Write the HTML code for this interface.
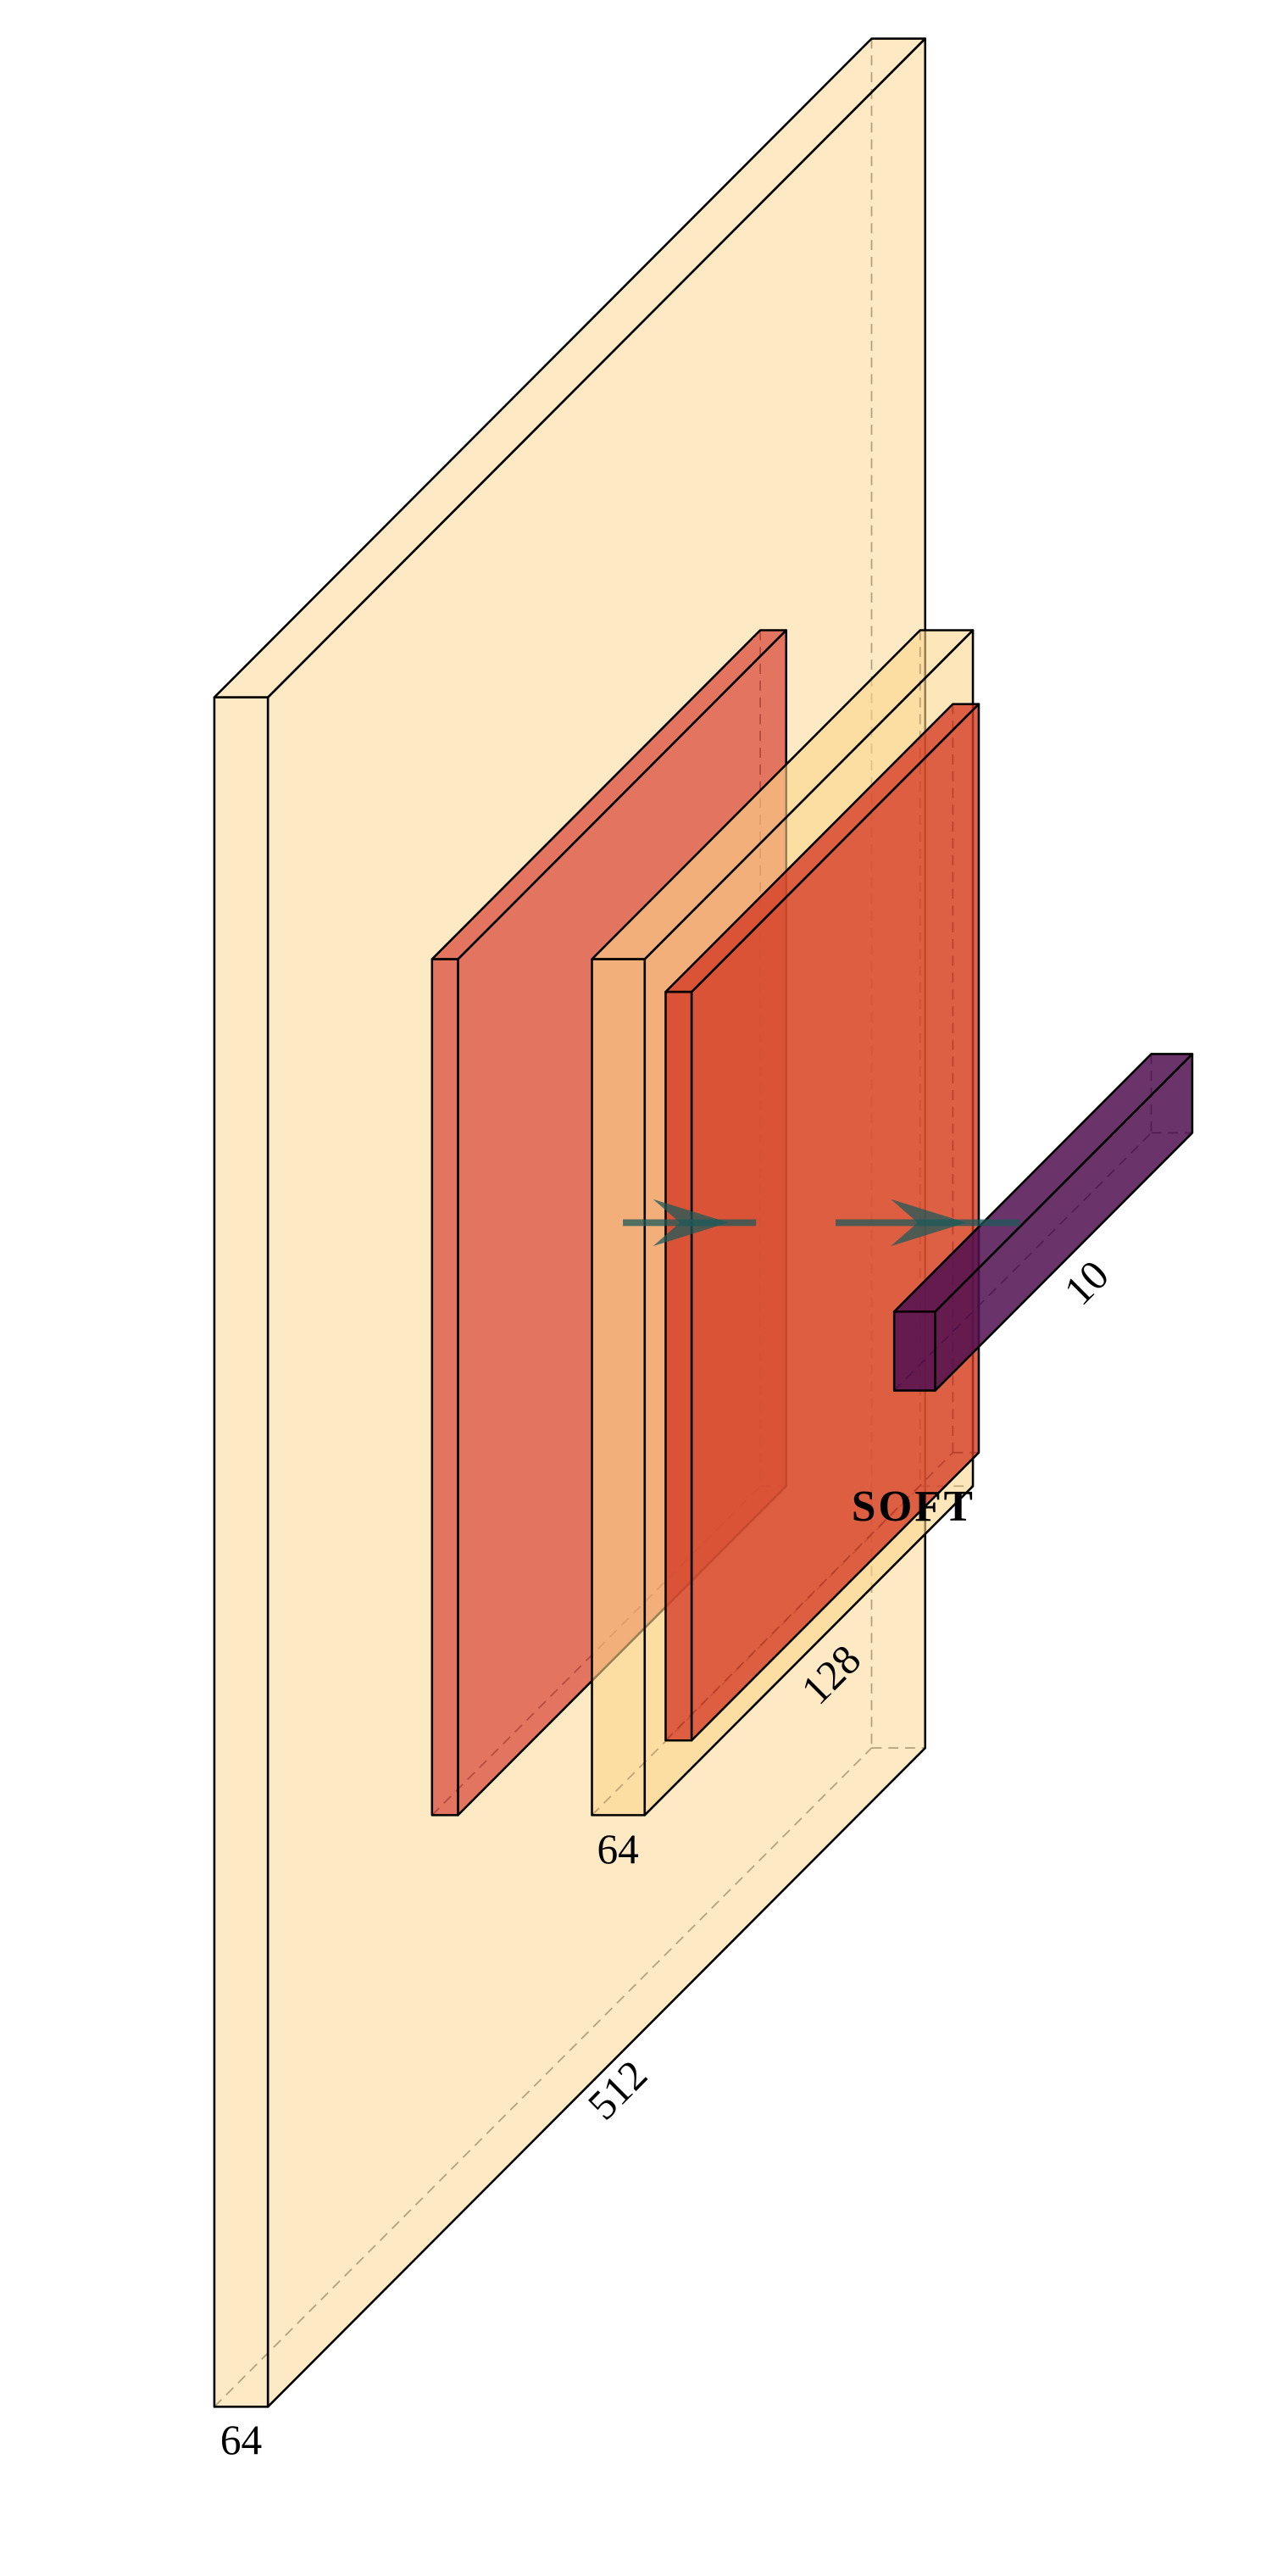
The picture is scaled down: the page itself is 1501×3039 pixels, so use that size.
<!DOCTYPE html>
<html><head><meta charset="utf-8">
<style>
html,body{margin:0;padding:0;background:#fff;}
svg{display:block;}
text{font-family:"Liberation Serif",serif;fill:#000;}
</style></head>
<body>
<svg width="1501" height="3039" viewBox="0 0 1501 3039" xmlns="http://www.w3.org/2000/svg"><g id="net" transform="scale(0.988,0.990)"></g></svg>
<script>
const layerNames = ['input-block','conv-block-1','conv-block-2','conv-block-3','softmax-block'];
const layerX0 = [256, 516, 707, 795, 1068];
const layerX1 = [320, 547, 770, 826, 1117];
const layerTop = [831, 1143, 1143, 1182, 1563];
const layerBot = [2868, 2163, 2163, 2074, 1657];
const layerDepth = [785, 392, 392, 343, 307];
const layerFill = ['rgb(252,213,140)','rgb(215,67,54)','rgb(252,213,140)','rgb(212,58,36)','rgb(80,15,80)'];
const layerAlpha = [0.52, 0.7, 0.6, 0.78, 0.85];

const svg = document.getElementById('net');
const NS = 'http://www.w3.org/2000/svg';
function pts(a){return a.map(p=>p.join(',')).join(' ');}

for(let i=0;i<layerNames.length;i++){
  const x0=layerX0[i],x1=layerX1[i],t=layerTop[i],b=layerBot[i],d=layerDepth[i];
  const st={fill:layerFill[i],'fill-opacity':layerAlpha[i],stroke:'#000','stroke-width':2.6,'stroke-linejoin':'round'};
  const g=document.createElementNS(NS,'g');
  
  
  svg.appendChild(g);
  const add=(tag,attrs)=>{const e=document.createElementNS(NS,tag);for(const k in attrs)e.setAttribute(k,attrs[k]);g.appendChild(e);return e;};
  const ds={stroke:'rgba(0,0,0,0.6)','stroke-width':1.8,'stroke-dasharray':'12,8',fill:'none'};
  add('line',Object.assign({x1:x0+d,y1:t-d,x2:x0+d,y2:b-d},ds));
  add('line',Object.assign({x1:x0+d,y1:b-d,x2:x1+d,y2:b-d},ds));
  add('line',Object.assign({x1:x0,y1:b,x2:x0+d,y2:b-d},ds));
  const side=add('polygon',Object.assign({points:pts([[x1,t],[x1+d,t-d],[x1+d,b-d],[x1,b]])},st));
  
  
  const top=add('polygon',Object.assign({points:pts([[x0,t],[x1,t],[x1+d,t-d],[x0+d,t-d]])},st));
  
  
  const front=add('polygon',Object.assign({points:pts([[x0,t],[x1,t],[x1,b],[x0,b]])},st));
  
  
}

const arrowStart=[744, 998];
const arrowEnd=[903, 1218];
const arrowTip=[870, 1154];
const arrowY=1457;
for(let i=0;i<arrowStart.length;i++){
  const g=document.createElementNS(NS,'g');
  
  
  svg.appendChild(g);
  const l=document.createElementNS(NS,'line');
  [['x1',arrowStart[i]],['y1',arrowY],['x2',arrowEnd[i]],['y2',arrowY],['stroke','rgba(30,90,90,0.75)'],['stroke-width',8]].forEach(a=>l.setAttribute(a[0],a[1]));
  g.appendChild(l);
  const h=document.createElementNS(NS,'polygon');
  const tx=arrowTip[i];
  h.setAttribute('points',pts([[tx,arrowY],[tx-90,arrowY-28],[tx-58,arrowY],[tx-90,arrowY+28]]));
  h.setAttribute('fill','rgba(30,90,90,0.75)');
  g.appendChild(h);
}

const labelText=['64','64','512','128','10','SOFT'];
const labelNames=['input-width-label','conv-width-label','input-size-label','conv-size-label','output-size-label','softmax-label'];
const labelX=[288, 738, 738, 993, 1298, 1091];
const labelY=[2924, 2220, 2507, 2012, 1545, 1812];
const labelRot=[0,0,-45,-45,-45,0];
for(let i=0;i<labelText.length;i++){
  const t=document.createElementNS(NS,'text');
  
  
  t.setAttribute('x',labelX[i]);t.setAttribute('y',labelY[i]);
  t.setAttribute('text-anchor','middle');
  t.setAttribute('font-size',50);
  if(labelText[i]==='SOFT'){t.setAttribute('font-weight','bold');t.setAttribute('font-size',52);t.setAttribute('letter-spacing','3');}
  if(labelRot[i])t.setAttribute('transform','rotate('+labelRot[i]+' '+labelX[i]+' '+(labelY[i]-16)+')');
  t.textContent=labelText[i];
  svg.appendChild(t);
}
</script>
</body></html>
